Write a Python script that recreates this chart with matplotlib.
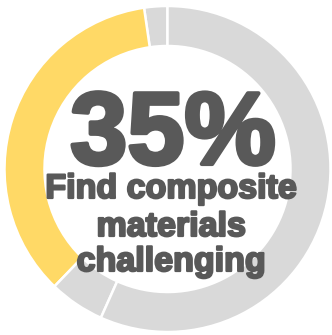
import matplotlib.pyplot as plt
import matplotlib.patheffects as pe

# donut segments, counter-clockwise from 12 o'clock
segments = ['other', 'challenging', 'other2', 'rest']
shares = [2.3, 35.5, 5.5, 56.7]
colors = ['#D9D9D9', '#FFD966', '#D9D9D9', '#D9D9D9']

headline = '35%'
caption = ['Find composite', 'materials', 'challenging']

W, H = 332, 335
fig = plt.figure(figsize=(W / 100, H / 100), dpi=100)
ax = fig.add_axes([0, 0, 1, 1])

ax.pie(shares, colors=colors, startangle=90, counterclock=True,
       radius=163, center=(167.5, H - 169),
       wedgeprops=dict(width=40, edgecolor='white', linewidth=1.8))
ax.set_xlim(0, W)
ax.set_ylim(0, H)
ax.set_aspect('auto')
ax.axis('off')

txt = '#595959'
ax.text(173, H - 164, headline, ha='center', va='baseline', fontsize=74,
        fontweight='bold', family='Liberation Sans', color=txt,
        path_effects=[pe.withStroke(linewidth=3, foreground=txt)])

baselines = [198, 236, 271]
for line, yb in zip(caption, baselines):
    ax.text(171, H - yb, line, ha='center', va='baseline', fontsize=24.5,
            fontweight='bold', family='Liberation Sans', color=txt,
            path_effects=[pe.withStroke(linewidth=1.6, foreground=txt)])

fig.savefig('out.png', dpi=100)
